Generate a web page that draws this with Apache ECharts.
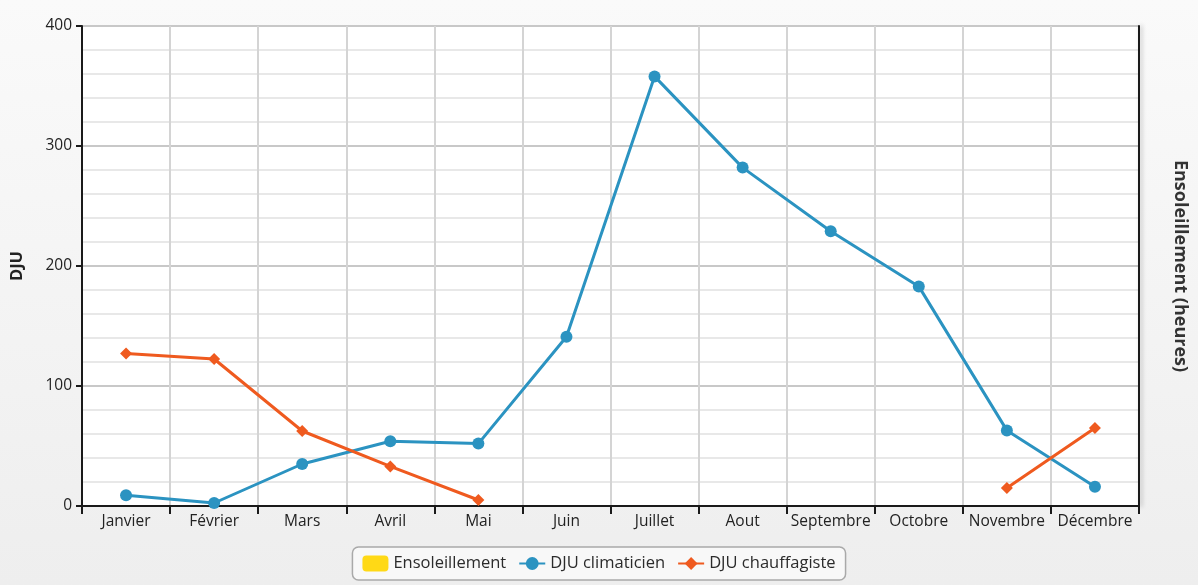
<!DOCTYPE html>
<html>
<head>
<meta charset="utf-8">
<script src="https://cdn.jsdelivr.net/npm/echarts@6/dist/echarts.min.js"></script>
<style>
html,body{margin:0;padding:0;background:#f1f1f1;}
#c{width:1198px;height:585px;}
</style>
</head>
<body>
<div id="c"></div>
<script>
const months = ['Janvier','Février','Mars','Avril','Mai','Juin','Juillet','Aout','Septembre','Octobre','Novembre','Décembre'];
const ensoleillement = [null,null,null,null,null,null,null,null,null,null,null,null];
const djuClimaticien = [9, 2.5, 35, 54, 52, 141, 358, 282, 229, 183, 63, 16];
const djuChauffagiste = [127, 122.5, 62.5, 33, 5, null, null, null, null, null, 15, 65];
const yTicks = [0, 100, 200, 300, 400];

const FONT = 'Open Sans';
const chart = echarts.init(document.getElementById('c'));
chart.setOption({
  backgroundColor: {
    type: 'linear', x: 0, y: 0, x2: 0, y2: 1,
    colorStops: [{offset: 0, color: '#fafafa'}, {offset: 1, color: '#eeeeee'}]
  },
  textStyle: {fontFamily: FONT},
  grid: {
    left: 82, right: 59, top: 26, bottom: 79,
    outerBoundsMode: 'none',
    containLabel: false,
    show: true, backgroundColor: '#ffffff', borderWidth: 0
  },
  legend: {
    bottom: 5,
    left: 'center',
    data: ['Ensoleillement', 'DJU climaticien', 'DJU chauffagiste'],
    backgroundColor: '#f8f8f8',
    borderColor: '#a9a9a9',
    borderWidth: 1.5,
    borderRadius: 6,
    padding: [8, 10, 8, 10],
    itemGap: 12,
    itemWidth: 26,
    itemHeight: 16,
    textStyle: {fontFamily: FONT, fontSize: 16.5, color: '#2b2b2b'}
  },
  xAxis: {
    type: 'category',
    data: months,
    boundaryGap: true,
    axisLine: {show: true, lineStyle: {color: '#1a1a1a', width: 2}},
    axisTick: {show: true, interval: 0, length: 8, lineStyle: {color: '#1a1a1a', width: 2}},
    axisLabel: {interval: 0, fontFamily: FONT, fontSize: 15.5, color: '#222', margin: 8},
    splitLine: {show: true, interval: 0, lineStyle: {color: '#d4d4d4', width: 2}}
  },
  yAxis: [{
    type: 'value',
    min: yTicks[0], max: yTicks[yTicks.length - 1], interval: 100,
    name: 'DJU',
    nameLocation: 'middle',
    nameGap: 56,
    nameRotate: 90,
    nameTextStyle: {fontFamily: FONT, fontSize: 16.5, fontWeight: 'bold', color: '#222'},
    axisLine: {show: true, lineStyle: {color: '#1a1a1a', width: 2}},
    axisTick: {show: true, length: 6, lineStyle: {color: '#1a1a1a', width: 2}},
    axisLabel: {fontFamily: FONT, fontSize: 15.5, color: '#222', margin: 10},
    splitLine: {show: true, lineStyle: {color: '#c8c8c8', width: 2}},
    minorTick: {show: false, splitNumber: 5},
    minorSplitLine: {show: true, lineStyle: {color: '#e8e8e8', width: 2}}
  }, {
    type: 'value',
    position: 'right',
    min: 0, max: 400,
    name: 'Ensoleillement (heures)',
    nameLocation: 'middle',
    nameGap: 32,
    nameRotate: -90,
    nameTextStyle: {fontFamily: FONT, fontSize: 18, fontWeight: 'bold', color: '#333'},
    axisLine: {show: true, lineStyle: {color: '#1a1a1a', width: 2, shadowColor: 'rgba(0,0,0,0.25)', shadowBlur: 4, shadowOffsetX: 2}},
    axisTick: {show: false},
    axisLabel: {show: false},
    splitLine: {show: false}
  }],
  series: [{
    name: 'Ensoleillement',
    type: 'bar',
    yAxisIndex: 1,
    data: ensoleillement,
    itemStyle: {color: '#ffd916', borderRadius: 2}
  }, {
    name: 'DJU climaticien',
    type: 'line',
    data: djuClimaticien,
    symbol: 'circle',
    symbolSize: 12,
    color: '#2b93c1',
    lineStyle: {width: 3, color: '#2b93c1'},
    itemStyle: {color: '#2b93c1'},
    connectNulls: false,
    z: 3
  }, {
    name: 'DJU chauffagiste',
    type: 'line',
    data: djuChauffagiste,
    symbol: 'diamond',
    symbolSize: 12,
    color: '#ef5a1f',
    lineStyle: {width: 3, color: '#ef5a1f'},
    itemStyle: {color: '#ef5a1f'},
    connectNulls: false,
    z: 4
  }]
});
</script>
</body>
</html>
